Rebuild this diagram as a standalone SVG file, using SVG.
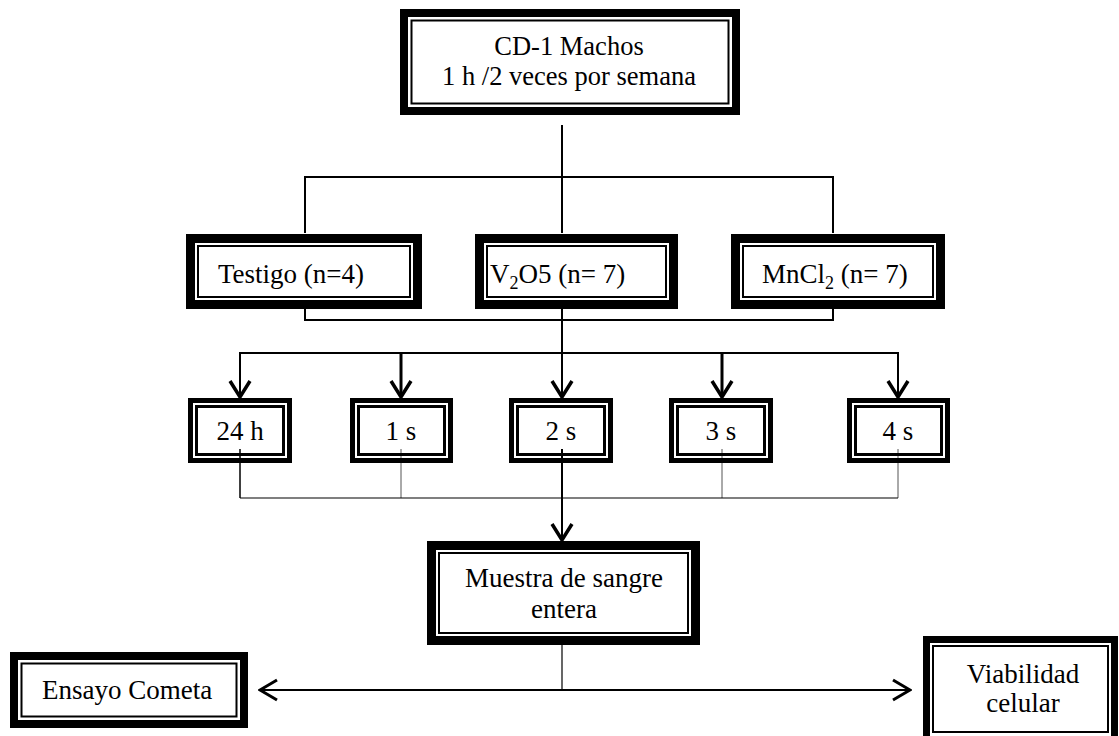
<svg xmlns="http://www.w3.org/2000/svg" width="1119" height="736" viewBox="0 0 1119 736">
<style>
.t{font-family:"Liberation Serif","Times New Roman",serif;font-size:27px;fill:#000}
.c{text-anchor:middle}
.o{fill:none;stroke:#000}
.ln{fill:none;stroke:#000;stroke-width:2}
.thin{fill:none;stroke:#555;stroke-width:1}
.blk{fill:none;stroke:#000;stroke-width:1.2}
</style>
<defs>
<marker id="arr" viewBox="-20 -12 22 24" refX="0" refY="0" markerWidth="22" markerHeight="24" markerUnits="userSpaceOnUse" orient="auto">
<path d="M-16,-10 L0,0 L-16,10" fill="none" stroke="#000" stroke-width="3.5"/>
</marker>
<marker id="arr2" viewBox="-20 -12 22 24" refX="0" refY="0" markerWidth="22" markerHeight="24" markerUnits="userSpaceOnUse" orient="auto">
<path d="M-17,-10 L0,0 L-17,10" fill="none" stroke="#000" stroke-width="3"/>
</marker>
</defs>
<rect width="1119" height="736" fill="#fff"/>
<g id="connectors">
<line class="ln" x1="562" y1="125" x2="562" y2="233"/>
<polyline class="ln" points="305,233 305,177 833,177 833,233"/>
<polyline class="ln" points="305,309 305,320 833,320 833,309"/>
<line class="ln" x1="562" y1="309" x2="562" y2="397" marker-end="url(#arr)"/>
<line class="ln" x1="240" y1="353" x2="898" y2="353"/>
<line class="ln" x1="240" y1="352" x2="240" y2="397" marker-end="url(#arr)"/>
<line class="ln" x1="401" y1="352" x2="401" y2="397" style="stroke-width:3" marker-end="url(#arr)"/>
<line class="ln" x1="722" y1="352" x2="722" y2="397" style="stroke-width:3" marker-end="url(#arr)"/>
<line class="ln" x1="898" y1="352" x2="898" y2="397" marker-end="url(#arr)"/>
<line class="blk" x1="240" y1="449" x2="240" y2="498" style="stroke-width:1.5"/>
<line class="thin" x1="401" y1="449" x2="401" y2="498"/>
<line class="thin" x1="722" y1="449" x2="722" y2="498"/>
<line class="thin" x1="898" y1="449" x2="898" y2="498"/>
<line class="blk" x1="240" y1="498" x2="898" y2="498"/>
<line class="ln" x1="562" y1="449" x2="562" y2="540" marker-end="url(#arr)"/>
<line class="blk" x1="562" y1="645" x2="562" y2="690"/>
<line class="ln" x1="562" y1="690" x2="260" y2="690" marker-end="url(#arr2)"/>
<line class="ln" x1="562" y1="690" x2="910" y2="690" marker-end="url(#arr2)"/>
</g>
<g id="top">
<rect class="o" x="404" y="13" width="332" height="98" stroke-width="8"/>
<rect class="o" x="411.5" y="20.5" width="317" height="83" stroke-width="2"/>
<text class="t c" x="569" y="55" style="font-size:26.5px">CD-1 Machos</text>
<text class="t c" x="569" y="85" style="font-size:26.5px">1 h /2 veces por semana</text>
</g>
<g id="testigo">
<rect class="o" x="190.5" y="238.5" width="227" height="66" stroke-width="9"/>
<rect class="o" x="198" y="246" width="212" height="51" stroke-width="2"/>
<text class="t" x="218" y="283">Testigo (n=4)</text>
</g>
<g id="v2o5">
<rect class="o" x="479.5" y="238.5" width="194" height="66" stroke-width="9"/>
<rect class="o" x="487" y="246" width="179" height="51" stroke-width="2"/>
<text class="t" x="490" y="283">V<tspan font-size="18" dy="6">2</tspan><tspan dy="-6">O5 (n= 7)</tspan></text>
</g>
<g id="mncl2">
<rect class="o" x="735.5" y="238.5" width="205" height="66" stroke-width="9"/>
<rect class="o" x="743" y="246" width="190" height="51" stroke-width="2"/>
<text class="t" x="762" y="283">MnCl<tspan font-size="18" dy="6">2</tspan><tspan dy="-6"> (n= 7)</tspan></text>
</g>
<g id="h24">
<rect class="o" x="190.5" y="400.5" width="99" height="60" stroke-width="5"/>
<rect class="o" x="196.5" y="406.5" width="87" height="48" stroke-width="3"/>
<text class="t c" x="240" y="440">24 h</text>
</g>
<g id="s1">
<rect class="o" x="352.5" y="400.5" width="98" height="60" stroke-width="5"/>
<rect class="o" x="358.5" y="406.5" width="86" height="48" stroke-width="3"/>
<text class="t c" x="401" y="440">1 s</text>
</g>
<g id="s2">
<rect class="o" x="511.5" y="400.5" width="99" height="60" stroke-width="5"/>
<rect class="o" x="517.5" y="406.5" width="87" height="48" stroke-width="3"/>
<text class="t c" x="561" y="440">2 s</text>
</g>
<g id="s3">
<rect class="o" x="671.5" y="400.5" width="99" height="60" stroke-width="5"/>
<rect class="o" x="677.5" y="406.5" width="87" height="48" stroke-width="3"/>
<text class="t c" x="721" y="440">3 s</text>
</g>
<g id="s4">
<rect class="o" x="849.5" y="400.5" width="98" height="60" stroke-width="5"/>
<rect class="o" x="855.5" y="406.5" width="86" height="48" stroke-width="3"/>
<text class="t c" x="898" y="440">4 s</text>
</g>
<g id="muestra">
<rect class="o" x="431.5" y="545.5" width="264" height="95" stroke-width="9"/>
<rect class="o" x="439" y="553" width="249" height="80" stroke-width="2"/>
<text class="t c" x="564" y="587">Muestra de sangre</text>
<text class="t c" x="564" y="618">entera</text>
</g>
<g id="ensayo">
<rect class="o" x="14" y="656" width="230" height="68" stroke-width="8"/>
<rect class="o" x="21.5" y="663.5" width="215" height="53" stroke-width="2"/>
<text class="t" x="42" y="699">Ensayo Cometa</text>
</g>
<g id="viabilidad">
<rect class="o" x="926.5" y="639.5" width="188" height="100" stroke-width="7"/>
<rect class="o" x="933" y="646" width="175" height="86" stroke-width="2"/>
<text class="t c" x="1023" y="683">Viabilidad</text>
<text class="t c" x="1023" y="712">celular</text>
</g>
</svg>
